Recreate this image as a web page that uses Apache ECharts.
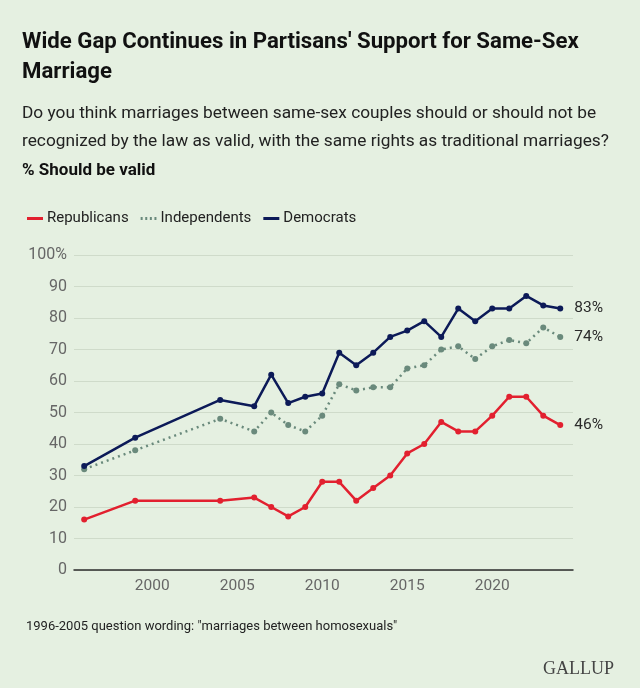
<!DOCTYPE html>
<html>
<head>
<meta charset="utf-8">
<script src="https://cdn.jsdelivr.net/npm/echarts@6/dist/echarts.min.js"></script>
<style>
  html, body { margin: 0; padding: 0; background: #e5f0e1; }
  #chart { width: 640px; height: 688px; }
</style>
</head>
<body>
<div id="chart"></div>
<script>
// survey years
const years = [1996, 1999, 2004, 2006, 2007, 2008, 2009, 2010, 2011, 2012, 2013,
               2014, 2015, 2016, 2017, 2018, 2019, 2020, 2021, 2022, 2023, 2024];

const republicans  = [16, 22, 22, 23, 20, 17, 20, 28, 28, 22, 26, 30, 37, 40, 47, 44, 44, 49, 55, 55, 49, 46];
const independents = [32, 38, 48, 44, 50, 46, 44, 49, 59, 57, 58, 58, 64, 65, 70, 71, 67, 71, 73, 72, 77, 74];
const democrats    = [33, 42, 54, 52, 62, 53, 55, 56, 69, 65, 69, 74, 76, 79, 74, 83, 79, 83, 83, 87, 84, 83];

const xTicks = [2000, 2005, 2010, 2015, 2020];
const yTicks = [0, 10, 20, 30, 40, 50, 60, 70, 80, 90, 100];

const FONT = 'Roboto, "Liberation Sans", sans-serif';
const RED = '#e2202f';
const GREY = '#6a8a7c';
const NAVY = '#0c1a58';

function pairs(vals) {
    return years.map((y, i) => [y, vals[i]]);
}

function makeSeries(name, vals, color, dotted) {
    return {
        name: name,
        type: 'line',
        data: pairs(vals),
        symbol: 'circle',
        symbolSize: 6,
        lineStyle: { color: color, width: 2.5, type: dotted ? [2, 4] : 'solid' },
        itemStyle: { color: color },
        endLabel: {
            show: true,
            formatter: p => p.value[1] + '%',
            color: '#2b2b2b',
            fontFamily: FONT,
            fontSize: 15.5,
            offset: [6, 0]
        },
        emphasis: { disabled: true },
        animation: false
    };
}

const chart = echarts.init(document.getElementById('chart'));

// dotted legend icon built from small squares
const dotIcon = 'path://M0,0h2v3h-2zM4.6,0h2v3h-2zM9.2,0h2v3h-2zM13.8,0h2v3h-2z';

chart.setOption({
    backgroundColor: '#e5f0e1',
    title: [{
        text: "Wide Gap Continues in Partisans' Support for Same-Sex\nMarriage",
        left: 17, top: 22,
        textStyle: { fontFamily: FONT, fontSize: 22.2, fontWeight: 'bold', color: '#111', lineHeight: 30 }
    }, {
        text: '{n|Do you think marriages between same-sex couples should or should not be}\n' +
              '{n|recognized by the law as valid, with the same rights as traditional marriages?}\n' +
              '{b|% Should be valid}',
        left: 17, top: 94,
        textStyle: {
            rich: {
                n: { fontFamily: FONT, fontSize: 17.3, fontWeight: 'normal', color: '#222', lineHeight: 28.5 },
                b: { fontFamily: FONT, fontSize: 17, fontWeight: 'bold', color: '#111', lineHeight: 28.5 }
            }
        }
    }, {
        text: '1996-2005 question wording: "marriages between homosexuals"',
        left: 21, top: 615,
        textStyle: { fontFamily: FONT, fontSize: 13, fontWeight: 'normal', color: '#222' }
    }, {
        text: 'GALLUP',
        left: 538, top: 655,
        textStyle: { fontFamily: '"Liberation Serif", "DejaVu Serif", serif', fontSize: 18, fontWeight: 'normal', color: '#444' }
    }],
    legend: {
        left: 22, top: 206,
        itemWidth: 16, itemHeight: 3, itemGap: 12,
        textStyle: { fontFamily: FONT, fontSize: 15, color: '#222', padding: [0, 0, 0, -1] },
        data: [
            { name: 'Republicans', icon: 'rect', itemStyle: { color: RED } },
            { name: 'Independents', icon: dotIcon, itemStyle: { color: GREY } },
            { name: 'Democrats', icon: 'rect', itemStyle: { color: NAVY } }
        ]
    },
    grid: { left: 74, right: 67, top: 255, bottom: 118 },
    xAxis: {
        type: 'value',
        min: 1995.4,
        max: 2024.75,
        axisLine: { show: true, lineStyle: { color: '#2d2d2d', width: 1.5 } },
        axisTick: { show: false },
        splitLine: { show: false },
        axisLabel: {
            customValues: xTicks,
            formatter: v => String(v),
            color: '#666',
            fontFamily: FONT,
            fontSize: 15.5,
            margin: 8
        }
    },
    yAxis: {
        type: 'value',
        min: 0, max: 100, interval: 10,
        axisLine: { show: false },
        axisTick: { show: false },
        splitLine: { lineStyle: { color: '#cfdbca', width: 1 } },
        axisLabel: {
            customValues: yTicks,
            color: '#666',
            fontFamily: FONT,
            fontSize: 16,
            margin: 7,
            formatter: v => v === 100 ? '100%' : String(v)
        }
    },
    series: [
        makeSeries('Republicans', republicans, RED, false),
        makeSeries('Independents', independents, GREY, true),
        makeSeries('Democrats', democrats, NAVY, false)
    ]
});
</script>
</body>
</html>
